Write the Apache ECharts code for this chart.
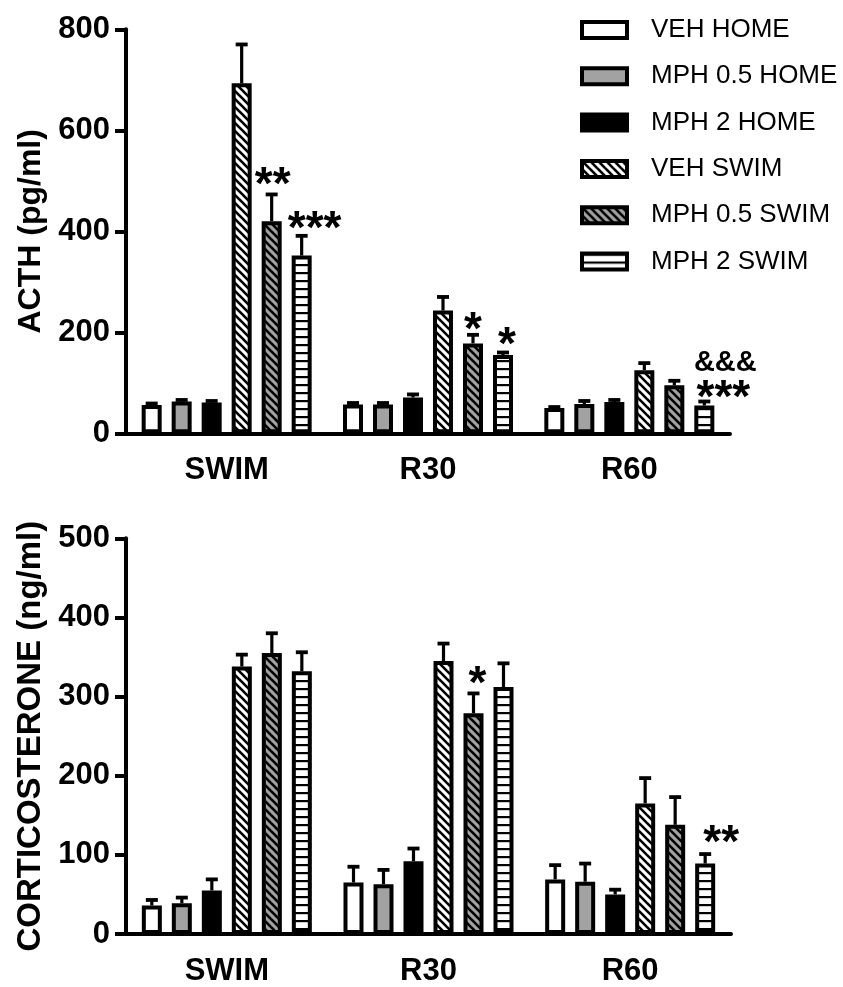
<!DOCTYPE html>
<html>
<head>
<meta charset="utf-8">
<script src="https://cdn.jsdelivr.net/npm/echarts@6/dist/echarts.min.js"></script>
<style>
html,body{margin:0;padding:0;background:#fff;}
#chart{width:843px;height:987px;}
</style>
</head>
<body>
<div id="chart"></div>
<script>
// ---------------- DATA ----------------
const categories = ['SWIM', 'R30', 'R60'];
const seriesNames = ['VEH HOME', 'MPH 0.5 HOME', 'MPH 2 HOME', 'VEH SWIM', 'MPH 0.5 SWIM', 'MPH 2 SWIM'];

// ACTH (pg/ml) means
const acthVehHome   = [56, 57, 50];
const acthMph05Home = [63, 57, 58];
const acthMph2Home  = [61, 71, 62];
const acthVehSwim   = [693, 243, 125];
const acthMph05Swim = [420, 178, 95];
const acthMph2Swim  = [352, 155, 55];
// ACTH SEM
const acthVehHomeErr   = [3, 3, 2];
const acthMph05HomeErr = [3, 3, 6];
const acthMph2HomeErr  = [3, 6, 4];
const acthVehSwimErr   = [77, 27, 14];
const acthMph05SwimErr = [53, 17, 9];
const acthMph2SwimErr  = [39, 5, 8];
// ACTH significance marks
const acthSigMph05Swim = ['**', '*', ''];
const acthSigMph2Swim  = ['***', '*', '***'];
const acthAmpMph2Swim  = ['', '', '&&&'];

// Corticosterone (ng/ml) means
const cortVehHome   = [36, 65, 69];
const cortMph05Home = [39, 63, 66];
const cortMph2Home  = [55, 92, 50];
const cortVehSwim   = [338, 345, 165];
const cortMph05Swim = [355, 279, 138];
const cortMph2Swim  = [332, 312, 89];
// Corticosterone SEM
const cortVehHomeErr   = [7, 20, 18];
const cortMph05HomeErr = [7, 18, 23];
const cortMph2HomeErr  = [14, 16, 6];
const cortVehSwimErr   = [15, 22, 32];
const cortMph05SwimErr = [25, 25, 35];
const cortMph2SwimErr  = [24, 30, 12];
// Corticosterone significance marks
const cortSigMph05Swim = ['', '*', ''];
const cortSigMph2Swim  = ['', '', '**'];

// axis ticks
const acthAxis = { min: 0, max: 800, interval: 200 };
const cortAxis = { min: 0, max: 500, interval: 100 };

// ---------------- STYLE ----------------
const FONT = "'Liberation Sans', Arial, Helvetica, sans-serif";
const BAR_W = 20, BAR_GAP = 0.5, BAR_PITCH = BAR_W * (1 + BAR_GAP);
const GRAY = '#a2a2a2';

function diagPattern(bg) {
  const s = 8, c = document.createElement('canvas');
  c.width = s; c.height = s;
  const g = c.getContext('2d');
  g.fillStyle = bg; g.fillRect(0, 0, s, s);
  g.strokeStyle = '#000'; g.lineWidth = 2.6;
  for (const k of [-1, 0, 1]) {
    g.beginPath(); g.moveTo(k * s - 2, -2); g.lineTo(k * s + s + 2, s + 2); g.stroke();
  }
  return { image: c, repeat: 'repeat' };
}
function horizPattern() {
  const s = 8, c = document.createElement('canvas');
  c.width = s; c.height = s;
  const g = c.getContext('2d');
  g.fillStyle = '#fff'; g.fillRect(0, 0, s, s);
  g.fillStyle = '#000'; g.fillRect(0, 0, s, 2.2);
  return { image: c, repeat: 'repeat' };
}
const fills = ['#ffffff', GRAY, '#000000', diagPattern('#ffffff'), diagPattern(GRAY), horizPattern()];

// annotation placement style: [dx, glyph-centre height above error cap]
const annoStyle = {
  acth: { '4,0': [1, 20], '5,0': [13, 18], '4,1': [0, 16], '5,1': [4, 18], '5,2': [19, 14], 'amp5,2': [21, 40] },
  cort: { '4,1': [4, 20], '5,2': [16, 22] }
};

// ---------------- BUILD ----------------
const acthMeans = [acthVehHome, acthMph05Home, acthMph2Home, acthVehSwim, acthMph05Swim, acthMph2Swim];
const acthErrs = [acthVehHomeErr, acthMph05HomeErr, acthMph2HomeErr, acthVehSwimErr, acthMph05SwimErr, acthMph2SwimErr];
const cortMeans = [cortVehHome, cortMph05Home, cortMph2Home, cortVehSwim, cortMph05Swim, cortMph2Swim];
const cortErrs = [cortVehHomeErr, cortMph05HomeErr, cortMph2HomeErr, cortVehSwimErr, cortMph05SwimErr, cortMph2SwimErr];

const acthAnno = [];
[[4, acthSigMph05Swim, ''], [5, acthSigMph2Swim, ''], [5, acthAmpMph2Swim, 'amp']].forEach(([j, arr, pre]) => {
  arr.forEach((t, c) => { if (t) acthAnno.push({ j, c, t, key: pre + j + ',' + c }); });
});
const cortAnno = [];
[[4, cortSigMph05Swim, ''], [5, cortSigMph2Swim, '']].forEach(([j, arr, pre]) => {
  arr.forEach((t, c) => { if (t) cortAnno.push({ j, c, t, key: pre + j + ',' + c }); });
});

const axisLabelStyle = { color: '#000', fontFamily: FONT, fontWeight: 'bold', fontSize: 31 };

function makeAxes(g, ax, name, nameSize) {
  const x = {
    gridIndex: g, type: 'category', data: categories,
    axisLine: { lineStyle: { color: '#000', width: 4 } },
    axisTick: { show: false },
    axisLabel: Object.assign({ margin: 22 }, axisLabelStyle),
    splitLine: { show: false }
  };
  const y = {
    gridIndex: g, type: 'value', min: ax.min, max: ax.max, interval: ax.interval,
    name: name, nameLocation: 'middle', nameRotate: 90, nameGap: 79,
    nameTextStyle: { color: '#000', fontFamily: FONT, fontWeight: 'bold', fontSize: nameSize },
    axisLine: { show: true, lineStyle: { color: '#000', width: 4 } },
    axisTick: { show: true, length: 11, lineStyle: { color: '#000', width: 4 } },
    axisLabel: Object.assign({ margin: 16 }, axisLabelStyle),
    splitLine: { show: false }
  };
  return [x, y];
}

function barSeries(g, means) {
  return means.map((vals, j) => ({
    type: 'bar', name: seriesNames[j], xAxisIndex: g, yAxisIndex: g,
    data: vals, barWidth: BAR_W, barGap: (BAR_GAP * 100) + '%',
    itemStyle: { color: fills[j], borderColor: '#000', borderWidth: 4 },
    z: 2
  }));
}

function errSeries(g, means, errs) {
  const data = [];
  means.forEach((vals, j) => vals.forEach((v, c) => data.push([c, j, v, errs[j][c]])));
  return {
    type: 'custom', xAxisIndex: g, yAxisIndex: g, z: 4, silent: true,
    encode: { x: 0, y: 2 }, data,
    renderItem: (params, api) => {
      const c = api.value(0), j = api.value(1), m = api.value(2), s = api.value(3);
      const p0 = api.coord([c, m]), p1 = api.coord([c, m + s]);
      const x = p0[0] + (j - (seriesNames.length - 1) / 2) * BAR_PITCH;
      return { type: 'group', children: [
        { type: 'line', shape: { x1: x, y1: p0[1], x2: x, y2: p1[1] }, style: { stroke: '#000', lineWidth: 3.2 } },
        { type: 'line', shape: { x1: x - 6, y1: p1[1], x2: x + 6, y2: p1[1] }, style: { stroke: '#000', lineWidth: 3.8 } }
      ]};
    }
  };
}

function annoSeries(g, list, means, errs, styleMap) {
  const data = list.map(a => [a.c, a.j, means[a.j][a.c] + errs[a.j][a.c]]);
  return {
    type: 'custom', xAxisIndex: g, yAxisIndex: g, z: 5, silent: true,
    encode: { x: 0, y: 2 }, data,
    renderItem: (params, api) => {
      const a = list[params.dataIndex];
      const p = api.coord([api.value(0), api.value(2)]);
      const st = styleMap[a.key] || [0, 17];
      const x = p[0] + (a.j - (seriesNames.length - 1) / 2) * BAR_PITCH + st[0];
      const isAmp = a.t.indexOf('&') >= 0;
      const fs = isAmp ? 29 : 46;
      const glyphShift = isAmp ? 1.5 : 12;
      return { type: 'text', x: x, y: p[1] - st[1] + glyphShift,
        style: { text: a.t, fill: '#000', font: 'bold ' + fs + 'px ' + FONT, align: 'center', verticalAlign: 'middle' } };
    }
  };
}

const [x0, y0] = makeAxes(0, acthAxis, 'ACTH (pg/ml)', 32);
const [x1, y1] = makeAxes(1, cortAxis, 'CORTICOSTERONE (ng/ml)', 33);

const option = {
  animation: false,
  backgroundColor: '#fff',
  grid: [
    { left: 126, right: 113, top: 29.3, bottom: 553.7 },
    { left: 126, right: 112, top: 538.3, bottom: 46.3 }
  ],
  legend: {
    data: seriesNames, orient: 'vertical', left: 580, top: 17, padding: 0,
    icon: 'rect', itemWidth: 45, itemHeight: 16, itemGap: 20.3,
    itemStyle: { borderColor: '#000', borderWidth: 4 },
    selectedMode: false,
    textStyle: { color: '#000', fontFamily: FONT, fontSize: 26, lineHeight: 16, padding: [0, 0, 0, 19] }
  },
  xAxis: [x0, x1],
  yAxis: [y0, y1],
  series: [
    ...barSeries(0, acthMeans),
    errSeries(0, acthMeans, acthErrs),
    annoSeries(0, acthAnno, acthMeans, acthErrs, annoStyle.acth),
    ...barSeries(1, cortMeans),
    errSeries(1, cortMeans, cortErrs),
    annoSeries(1, cortAnno, cortMeans, cortErrs, annoStyle.cort)
  ]
};

const chart = echarts.init(document.getElementById('chart'), null, { renderer: 'canvas' });
chart.setOption(option);
</script>
</body>
</html>
